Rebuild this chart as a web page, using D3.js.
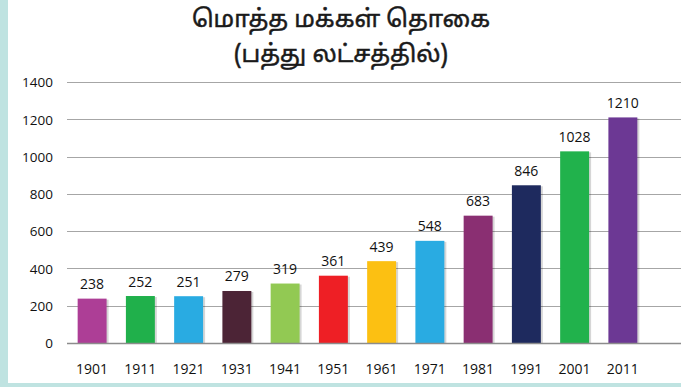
<!DOCTYPE html>
<html>
<head>
<meta charset="utf-8">
<script src="https://cdn.jsdelivr.net/npm/d3@7"></script>
<style>
  html, body { margin: 0; padding: 0; background: #ffffff; }
  svg { display: block; }
</style>
</head>
<body>
<svg id="chart" width="681" height="387"></svg>
<script>
// Census population of India, in millions
const years = ["1901", "1911", "1921", "1931", "1941", "1951", "1961", "1971", "1981", "1991", "2001", "2011"];
const population = [238, 252, 251, 279, 319, 361, 439, 548, 683, 846, 1028, 1210];
const barColors = ["#ad3e96", "#20b04b", "#29abe2", "#4c2436", "#92c953", "#ee1f25",
                   "#fcc012", "#29abe2", "#8a2f72", "#1e2a5e", "#21b24c", "#6c3894"];
const yTicks = [0, 200, 400, 600, 800, 1000, 1200, 1400];
const titleLines = ["மொத்த மக்கள் தொகை", "(பத்து லட்சத்தில்)"];

const W = 681, H = 387;
const svg = d3.select("#chart");

// page frame: pale teal strip on the left and along the bottom
svg.append("rect").attr("x", 0).attr("y", 0).attr("width", W).attr("height", H).attr("fill", "#bfe3e1");
svg.append("rect").attr("x", 8).attr("y", 0).attr("width", W - 8).attr("height", 383).attr("fill", "#ffffff");

const x = d3.scaleBand().domain(years).range([68, 647]).paddingInner(0.4).paddingOuter(0.2);
const y = d3.scaleLinear().domain([0, 1400]).range([343, 82]);

const labelFont = "'Open Sans', 'Noto Sans', sans-serif";

// horizontal gridlines
svg.append("g")
  .selectAll("line")
  .data(yTicks.filter(d => d > 0))
  .join("line")
  .attr("x1", 67).attr("x2", W)
  .attr("y1", d => Math.round(y(d)) + 0.5).attr("y2", d => Math.round(y(d)) + 0.5)
  .attr("stroke", "#a6a6a6").attr("stroke-width", 1.2);

// y axis tick labels
const yAxis = d3.axisLeft(y).tickValues(yTicks).tickFormat(d3.format("d")).tickSize(0).tickPadding(0);
const gy = svg.append("g").attr("transform", "translate(53,0)").call(yAxis);
gy.select(".domain").remove();
gy.selectAll("text")
  .attr("font-family", labelFont).attr("font-size", 13.5).attr("fill", "#111")
  .attr("dy", "0.35em");

// bars with a soft shadow on the right
const bars = svg.append("g");
bars.selectAll("rect.shadow")
  .data(years)
  .join("rect")
  .attr("class", "shadow")
  .attr("x", d => x(d) + 2)
  .attr("y", (d, i) => y(population[i]) + 1)
  .attr("width", x.bandwidth())
  .attr("height", (d, i) => y(0) - y(population[i]) - 1)
  .attr("fill", "#000").attr("opacity", 0.16);
bars.selectAll("rect.bar")
  .data(years)
  .join("rect")
  .attr("class", "bar")
  .attr("x", d => x(d))
  .attr("y", (d, i) => y(population[i]))
  .attr("width", x.bandwidth())
  .attr("height", (d, i) => y(0) - y(population[i]))
  .attr("fill", (d, i) => barColors[i]);

// baseline
svg.append("line")
  .attr("x1", 67).attr("x2", W)
  .attr("y1", y(0) + 0.5).attr("y2", y(0) + 0.5)
  .attr("stroke", "#8c8c8c").attr("stroke-width", 1.3);

// value labels above each bar
svg.append("g")
  .selectAll("text")
  .data(years)
  .join("text")
  .attr("x", d => x(d) + x.bandwidth() / 2)
  .attr("y", (d, i) => y(population[i]) - 9.5)
  .attr("text-anchor", "middle")
  .attr("font-family", labelFont).attr("font-size", 14).attr("fill", "#111")
  .text((d, i) => population[i]);

// x axis labels
const xAxis = d3.axisBottom(x).tickSize(0).tickPadding(0);
const gx = svg.append("g").attr("transform", "translate(0,374)").call(xAxis);
gx.select(".domain").remove();
gx.selectAll("text")
  .attr("font-family", labelFont).attr("font-size", 14).attr("fill", "#111")
  .attr("dy", 0);

// title, slightly heavier than the regular weight
svg.append("g")
  .selectAll("text")
  .data(titleLines)
  .join("text")
  .attr("x", 341)
  .attr("y", (d, i) => 27 + i * 35)
  .attr("text-anchor", "middle")
  .attr("font-family", "'Noto Sans Tamil', 'Noto Sans', sans-serif")
  .attr("font-size", 24).attr("fill", "#1a1a1a")
  .attr("stroke", "#1a1a1a").attr("stroke-width", 0.5)
  .text(d => d);
</script>
</body>
</html>
